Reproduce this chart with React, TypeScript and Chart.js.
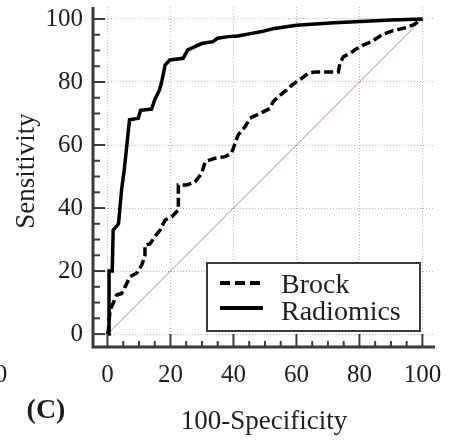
import React, { useEffect, useRef } from "react";
import { Chart, registerables } from "chart.js";

Chart.register(...registerables);

// ---- data ----
const radiomicsX = [0, 0.5, 0.5, 1.5, 1.8, 3.5, 4.5, 5.3, 6.1, 7, 9.8, 10.5, 14, 15, 16.5, 17.2, 18.3, 19.8, 24, 25.5, 27.8, 29.9, 33.5, 35, 38.3, 41.4, 44.6, 49, 53, 60, 72, 82, 90, 100];
const radiomicsY = [0, 0, 20, 20, 33, 35, 46, 52, 59.5, 68, 68.5, 71, 71.4, 74.3, 77.5, 80, 85.4, 87, 87.5, 90.2, 91.2, 92.2, 92.8, 93.9, 94.4, 94.6, 95.2, 96, 97, 98, 98.8, 99.3, 99.7, 100];

const brockX = [0, 0.3, 0.8, 1.8, 2.9, 4.5, 6.1, 7.1, 9.3, 10.9, 11.9, 11.9, 13.5, 15, 16.7, 18.3, 20.4, 22.5, 22.5, 25.1, 27.8, 29.9, 31, 34.1, 37.3, 39.4, 40.5, 41.5, 43.7, 45.2, 48.4, 51.6, 52.6, 54.2, 56.9, 58.5, 61.7, 63.7, 65.8, 73.3, 73.8, 74.9, 77, 78.6, 81.2, 83.9, 85.5, 87.6, 90.7, 93.9, 97.1, 100];
const brockY = [0, 1.3, 7.6, 9.8, 12.4, 12.9, 16, 18.2, 19.4, 21.9, 25, 28.3, 28.6, 30.9, 33, 36.2, 37.2, 39.4, 47.3, 47.3, 48.3, 51, 54.7, 55.8, 56.3, 57.4, 60.5, 63.2, 65.8, 68.5, 70, 71.6, 73.7, 75.3, 77.5, 79, 81.2, 82.7, 83.2, 83.2, 85.9, 88, 89.1, 90.2, 91.7, 92.8, 93.9, 95.2, 96.3, 97, 98.1, 100];

const refX = [0, 100];
const refY = [0, 100];

const tickValues = [0, 20, 40, 60, 80, 100];
const minorStep = 5;
const seriesLabels = ["Brock", "Radiomics"];
const xTitle = "100-Specificity";
const yTitle = "Sensitivity";
const panelLabel = "(C)";

const FONT = "'Liberation Serif', 'Times New Roman', serif";
const AXIS_COLOR = "#3a3a3a";
const TEXT_COLOR = "#1e1e1e";

const toPts = (xs: number[], ys: number[]) => xs.map((x, i) => ({ x, y: ys[i] }));

const decorPlugin = {
  id: "decor",
  afterDraw(chart: any) {
    const { ctx, chartArea, scales } = chart;
    const xs = scales.x;
    const ys = scales.y;
    ctx.save();
    // axis lines
    ctx.strokeStyle = AXIS_COLOR;
    ctx.lineWidth = 3;
    ctx.beginPath();
    ctx.moveTo(chartArea.left, chartArea.top);
    ctx.lineTo(chartArea.left, chartArea.bottom);
    ctx.lineTo(chartArea.right, chartArea.bottom);
    ctx.stroke();
    // inner ticks
    ctx.lineWidth = 2;
    for (let v = 0; v <= 100; v += minorStep) {
      const major = v % 20 === 0;
      const px = xs.getPixelForValue(v);
      ctx.beginPath();
      ctx.moveTo(px, chartArea.bottom);
      ctx.lineTo(px, chartArea.bottom - (major ? 13 : 6));
      ctx.stroke();
      const py = ys.getPixelForValue(v);
      ctx.beginPath();
      ctx.moveTo(chartArea.left, py);
      ctx.lineTo(chartArea.left + (major ? 12 : 7), py);
      ctx.stroke();
    }
    // legend
    const bx = 207, by = 263, bw = 213, bh = 68;
    ctx.fillStyle = "#ffffff";
    ctx.fillRect(bx, by, bw, bh);
    ctx.strokeStyle = AXIS_COLOR;
    ctx.lineWidth = 2;
    ctx.strokeRect(bx, by, bw, bh);
    const ds = chart.data.datasets;
    const lineYs = [283, 308];
    const baseYs = [293, 320];
    [0, 1].forEach((i) => {
      const d = ds[i];
      ctx.strokeStyle = d.borderColor;
      ctx.lineWidth = 4;
      ctx.setLineDash(d.borderDash ? [10, 5] : []);
      ctx.beginPath();
      ctx.moveTo(220, lineYs[i]);
      ctx.lineTo(263, lineYs[i]);
      ctx.stroke();
      ctx.setLineDash([]);
      ctx.fillStyle = TEXT_COLOR;
      ctx.font = `28px ${FONT}`;
      ctx.textAlign = "left";
      ctx.textBaseline = "alphabetic";
      ctx.fillText(d.label, 281, baseYs[i]);
    });
    // y title
    ctx.save();
    ctx.translate(27, 171);
    ctx.rotate(-Math.PI / 2);
    ctx.fillStyle = TEXT_COLOR;
    ctx.font = `27px ${FONT}`;
    ctx.textAlign = "center";
    ctx.textBaseline = "middle";
    ctx.fillText(yTitle, 0, 0);
    ctx.restore();
    // panel label
    ctx.fillStyle = TEXT_COLOR;
    ctx.font = `bold 28px ${FONT}`;
    ctx.textAlign = "center";
    ctx.textBaseline = "middle";
    ctx.fillText(panelLabel, 46, 411);
    // clipped neighbour digit
    ctx.font = `25px ${FONT}`;
    ctx.fillText("0", 1, 375);
    ctx.restore();
  },
};

export default function App() {
  const ref = useRef<HTMLCanvasElement | null>(null);
  useEffect(() => {
    if (!ref.current) return;
    const chart = new Chart(ref.current, {
      type: "scatter",
      data: {
        datasets: [
          {
            label: seriesLabels[0],
            data: toPts(brockX, brockY),
            showLine: true,
            borderColor: "#000000",
            borderWidth: 3.5,
            borderDash: [9, 4],
            pointRadius: 0,
            fill: false,
            tension: 0,
            order: 1,
          },
          {
            label: seriesLabels[1],
            data: toPts(radiomicsX, radiomicsY),
            showLine: true,
            borderColor: "#000000",
            borderWidth: 3.5,
            pointRadius: 0,
            fill: false,
            tension: 0,
            order: 0,
          },
          {
            label: "ref",
            data: toPts(refX, refY),
            showLine: true,
            borderColor: "#d47c88",
            borderWidth: 1,
            pointRadius: 0,
            fill: false,
            order: 2,
          },
        ],
      },
      options: {
        responsive: false,
        animation: false,
        devicePixelRatio: 1,
        layout: { padding: { left: 0, top: 7, right: 16, bottom: 0 } },
        plugins: { legend: { display: false }, tooltip: { enabled: false } },
        scales: {
          x: {
            type: "linear",
            min: -4.6,
            max: 104,
            afterBuildTicks: (s: any) => {
              s.ticks = tickValues.map((v) => ({ value: v }));
            },
            afterFit: (s: any) => {
              s.height = 97;
              s.paddingLeft = 0;
              s.paddingRight = 0;
              s.paddingTop = 0;
              s.paddingBottom = 0;
            },
            grid: {
              color: "#b0b0b0",
              lineWidth: 1,
              drawTicks: false,
            },
            border: { display: false, dash: [1, 2] },
            ticks: {
              color: TEXT_COLOR,
              font: { family: FONT, size: 25 },
              padding: 13,
              maxRotation: 0,
              autoSkip: false,
            },
            title: {
              display: true,
              text: xTitle,
              color: TEXT_COLOR,
              font: { family: FONT, size: 27 },
              padding: { top: 0, bottom: 6 },
            },
          },
          y: {
            type: "linear",
            min: -4.1,
            max: 103.8,
            afterBuildTicks: (s: any) => {
              s.ticks = tickValues.map((v) => ({ value: v }));
            },
            afterFit: (s: any) => {
              s.width = 93;
              s.paddingLeft = 0;
              s.paddingRight = 0;
              s.paddingTop = 0;
              s.paddingBottom = 0;
            },
            grid: {
              color: "#b0b0b0",
              lineWidth: 1,
              drawTicks: false,
            },
            border: { display: false, dash: [1, 2] },
            ticks: {
              color: TEXT_COLOR,
              font: { family: FONT, size: 25 },
              padding: 10,
              autoSkip: false,
            },
            title: { display: false },
          },
        },
      },
      plugins: [decorPlugin],
    });
    return () => chart.destroy();
  }, []);
  return (
    <div style={{ position: "absolute", left: 0, top: 0, width: 451, height: 444, background: "#fff" }}>
      <canvas ref={ref} width={451} height={444} style={{ width: 451, height: 444, display: "block" }} />
    </div>
  );
}
